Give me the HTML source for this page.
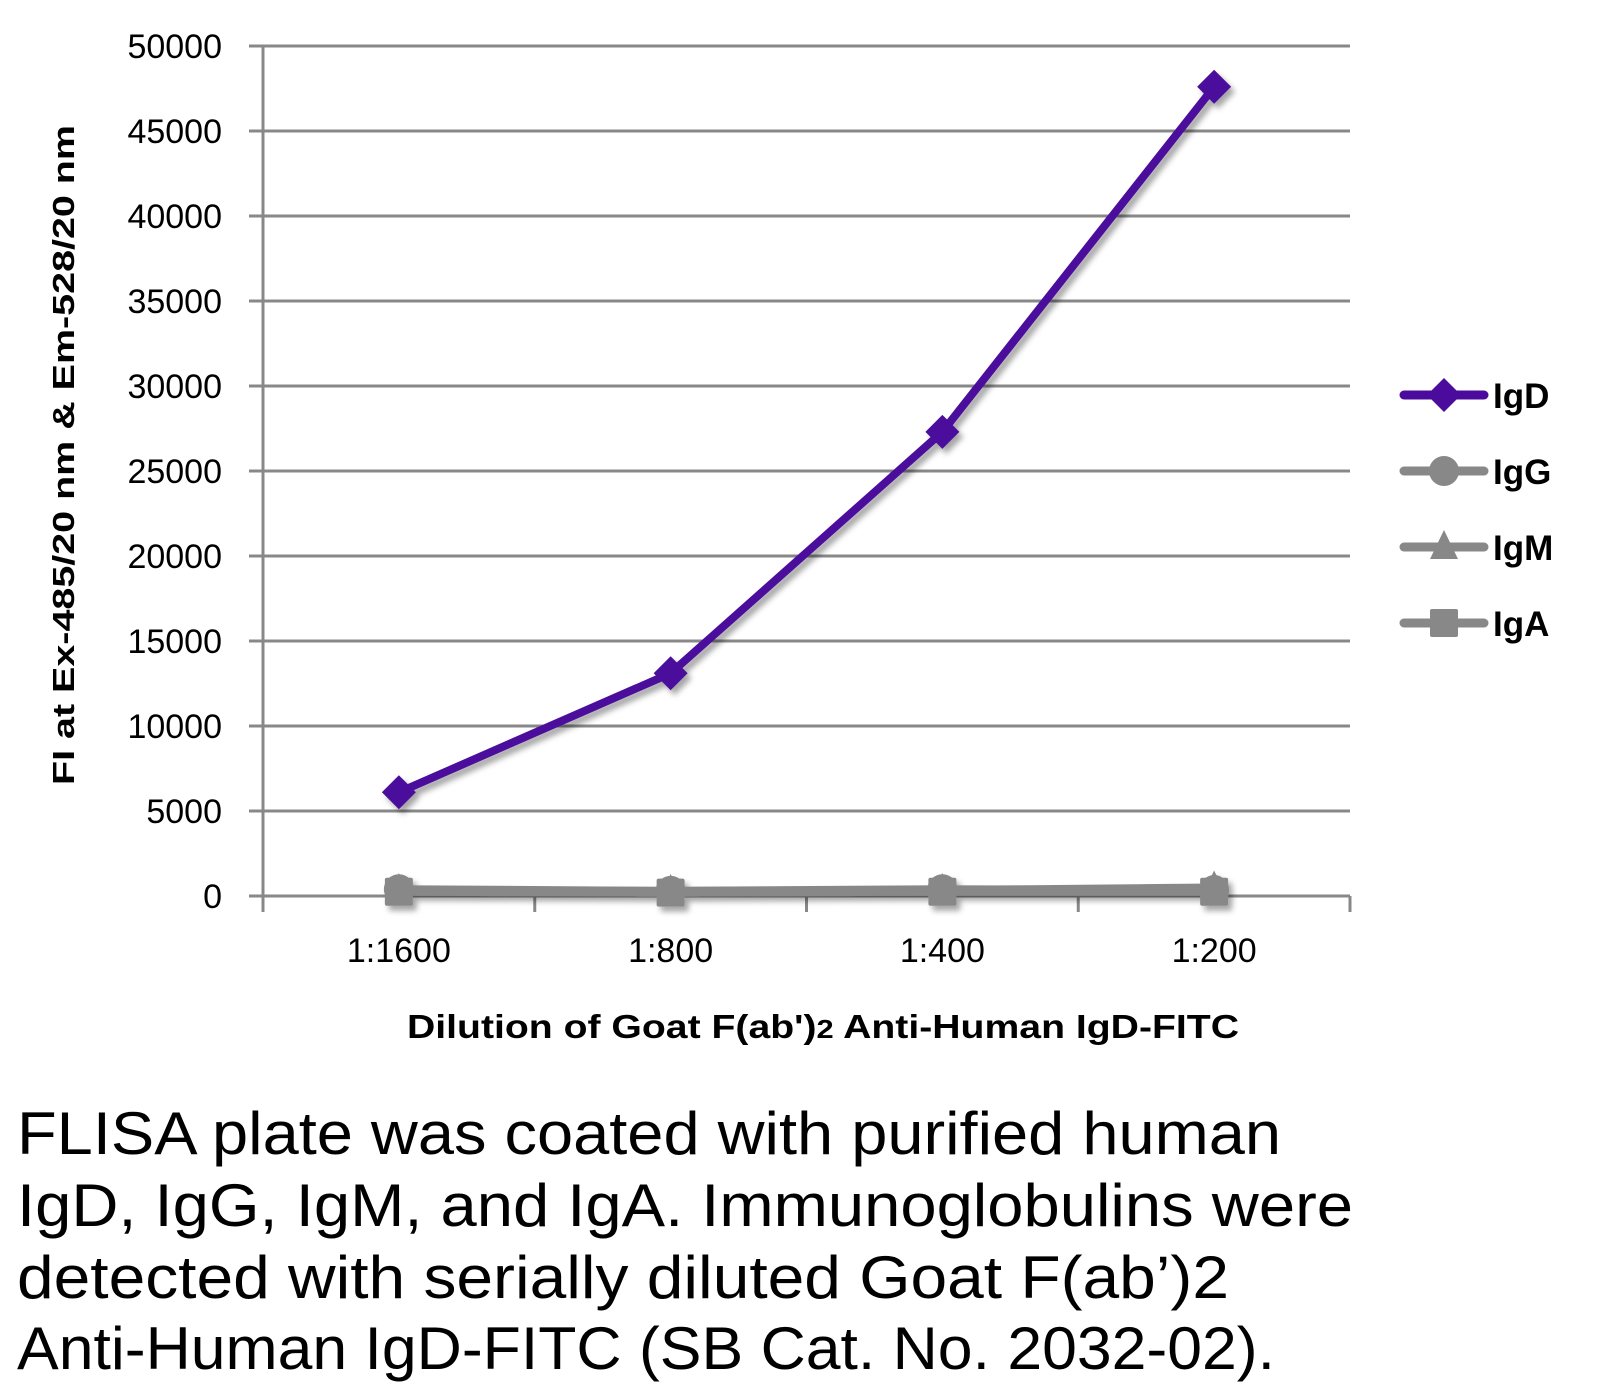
<!DOCTYPE html>
<html><head><meta charset="utf-8"><style>
html,body{margin:0;padding:0;background:#fff;}
svg{display:block;}
</style></head><body>
<svg id="chart" width="1612" height="1390" viewBox="0 0 1612 1390" xmlns="http://www.w3.org/2000/svg" font-family="'Liberation Sans', sans-serif">
<defs>
<filter id="sh" x="-20%" y="-20%" width="140%" height="140%">
<feDropShadow dx="4" dy="5" stdDeviation="3" flood-color="#000" flood-opacity="0.35"/>
</filter>
</defs>
<g id="grid"></g>
<g id="axes"></g>
<g id="series" filter="url(#sh)"></g>
<text transform="translate(74,455) rotate(-90)" text-anchor="middle" font-size="31" font-weight="bold" textLength="660" lengthAdjust="spacingAndGlyphs">FI at Ex-485/20 nm &amp; Em-528/20 nm</text>
<text x="823" y="1038" text-anchor="middle" font-size="33" font-weight="bold" textLength="832" lengthAdjust="spacingAndGlyphs">Dilution of Goat F(ab')<tspan font-size="26">2</tspan> Anti-Human IgD-FITC</text>
<g id="legend"></g>
<g font-size="60">
<text x="17" y="1154" textLength="1264" lengthAdjust="spacingAndGlyphs">FLISA plate was coated with purified human</text>
<text x="17" y="1226" textLength="1336" lengthAdjust="spacingAndGlyphs">IgD, IgG, IgM, and IgA.  Immunoglobulins were</text>
<text x="17" y="1298" textLength="1212" lengthAdjust="spacingAndGlyphs">detected with serially diluted Goat F(ab’)2</text>
<text x="17" y="1369" textLength="1258" lengthAdjust="spacingAndGlyphs">Anti-Human IgD-FITC (SB Cat. No. 2032-02).</text>
</g>
</svg>
<script>
const categories = ["1:1600","1:800","1:400","1:200"];
const yTicks = [0,5000,10000,15000,20000,25000,30000,35000,40000,45000,50000];
const seriesNames = ["IgD","IgG","IgM","IgA"];
const igD = [6100,13100,27300,47600];
const igG = [400,300,400,350];
const igM = [350,300,350,500];
const igA = [250,200,250,250];

const NS="http://www.w3.org/2000/svg";
const L=263,R=1350,T=46,B=896,YMAX=50000;
const cw=(R-L)/categories.length;
const xs=i=>L+cw*(i+0.5);
const ys=v=>B-(v/YMAX)*(B-T);
function mk(tag,attrs,parent){const e=document.createElementNS(NS,tag);for(const k in attrs)e.setAttribute(k,attrs[k]);parent.appendChild(e);return e;}
const grid=document.getElementById('grid'),axes=document.getElementById('axes'),ser=document.getElementById('series'),leg=document.getElementById('legend');
yTicks.forEach(v=>{
  const y=ys(v);
  const g=mk('line',{x1:249,x2:R,y1:y,y2:y,stroke:'#888','stroke-width':3},grid);
  
  
  const t=mk('text',{x:222,y:y+12,'text-anchor':'end','font-size':34},axes);
  t.textContent=v;
  
  
});
const ya=mk('line',{x1:L,x2:L,y1:T,y2:B+16,stroke:'#888','stroke-width':3},axes);


for(let i=0;i<=categories.length;i++){
  const x=L+cw*i;
  const tk=mk('line',{x1:x,x2:x,y1:B,y2:B+16,stroke:'#888','stroke-width':3},axes);
  
  
}
categories.forEach((c,i)=>{
  const t=mk('text',{x:xs(i),y:962,'text-anchor':'middle','font-size':34},axes);
  t.textContent=c;
  
  
});
const purple='#4B0B9C',gray='#888';
function marker(shape,x,y,color,parent){
  let e;
  if(shape==='diamond') e=mk('polygon',{points:`${x},${y-17} ${x+17},${y} ${x},${y+17} ${x-17},${y}`,fill:color},parent);
  else if(shape==='circle') e=mk('circle',{cx:x,cy:y,r:15,fill:color},parent);
  else if(shape==='triangle') e=mk('polygon',{points:`${x},${y-17} ${x+14},${y+12} ${x-14},${y+12}`,fill:color},parent);
  else e=mk('rect',{x:x-14,y:y-14,width:28,height:28,rx:2,fill:color},parent);
  return e;
}
const all=[[igA,gray,'square'],[igM,gray,'triangle'],[igG,gray,'circle'],[igD,purple,'diamond']];
const names={};names[igD]='IgD';
all.forEach(([arr,col,shape],k)=>{
  const nm=seriesNames[3-k];
  const g=mk('g',{},ser);
  
  
  const pts=arr.map((v,i)=>xs(i)+','+ys(v)).join(' ');
  mk('polyline',{points:pts,fill:'none',stroke:col,'stroke-width':8,'stroke-linejoin':'round','stroke-linecap':'round'},g);
  arr.forEach((v,i)=>{
    const m=marker(shape,xs(i),ys(v),col,g);
    
    
  });
});
const legShapes=['diamond','circle','triangle','square'];
seriesNames.forEach((n,i)=>{
  const y=395+i*76, col=i===0?purple:gray;
  const g=mk('g',{},leg);
  
  
  mk('line',{x1:1404,x2:1484,y1:y,y2:y,stroke:col,'stroke-width':9,'stroke-linecap':'round'},g);
  marker(legShapes[i],1444,y,col,g);
  const t=mk('text',{x:1493,y:y+13,'font-size':35,'font-weight':'bold'},g);
  t.textContent=n;
});
</script>
</body></html>
